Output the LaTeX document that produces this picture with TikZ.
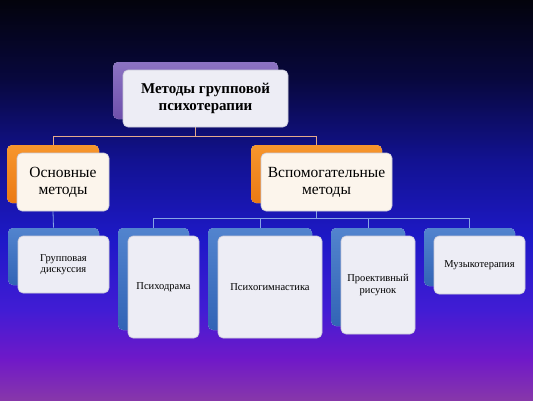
\documentclass[tikz,border=0pt]{standalone}
\usepackage{fontspec}
\setmainfont{Liberation Serif}
\usetikzlibrary{shadows,backgrounds}

\definecolor{bgA}{RGB}{3,3,12}
\definecolor{bgB}{RGB}{8,8,62}
\definecolor{bgC}{RGB}{18,18,145}
\definecolor{bgD}{RGB}{30,25,200}
\definecolor{bgE}{RGB}{65,28,212}
\definecolor{bgF}{RGB}{112,25,200}
\definecolor{bgG}{RGB}{135,55,170}
\definecolor{tabviolet}{RGB}{110,80,172}
\definecolor{tabvioletlt}{RGB}{140,115,195}
\definecolor{taborange}{RGB}{235,122,20}
\definecolor{taborangelt}{RGB}{247,150,45}
\definecolor{tabblue}{RGB}{50,100,182}
\definecolor{tabbluelt}{RGB}{82,132,206}
\definecolor{boxfill}{RGB}{237,237,245}
\definecolor{creamfill}{RGB}{252,245,236}
\definecolor{boxedge}{RGB}{200,200,215}
\definecolor{peachline}{RGB}{228,170,140}
\definecolor{skyline}{RGB}{135,165,228}

\begin{document}
\begin{tikzpicture}[x=1pt,y=-1pt,
    box/.style={rectangle, rounded corners=5pt, draw=boxedge, line width=0.6pt,
        fill=boxfill, align=center, inner sep=2pt},
    headbox/.style={box, minimum width=165pt, minimum height=57pt,
        font=\fontsize{15}{17}\selectfont\bfseries,
        copy shadow={shadow xshift=-10pt, shadow yshift=8pt, draw=none,
            top color=tabvioletlt, bottom color=tabviolet}},
    groupbox/.style={box, fill=creamfill, minimum height=58pt,
        font=\fontsize{15.5}{17}\selectfont,
        copy shadow={shadow xshift=-10pt, shadow yshift=8pt, draw=none,
            top color=taborangelt, bottom color=taborange}},
    methodbox/.style={box, font=\fontsize{10.5}{11.5}\selectfont,
        copy shadow={shadow xshift=-10pt, shadow yshift=8pt, draw=none,
            top color=tabbluelt, bottom color=tabblue}},
    peach/.style={draw=peachline, line width=1pt},
    sky/.style={draw=skyline, line width=0.8pt}
]
    \useasboundingbox (0,0) rectangle (533,400);

    % Top node
    \node[headbox] (head) at (205.5,98.5) {Методы групповой\\психотерапии};

    % Second level
    \node[groupbox, minimum width=92pt] (basic) at (63,182) {Основные\\методы};
    \node[groupbox, minimum width=131pt] (extra) at (326.5,182) {Вспомогательные\\методы};

    % Third level
    \node[methodbox, minimum width=91pt, minimum height=57pt] (discuss) at (63.5,264.5) {Групповая\\дискуссия};
    \node[methodbox, minimum width=71pt, minimum height=102pt] (drama) at (163.5,287) {Психодрама};
    \node[methodbox, minimum width=104pt, minimum height=102pt] (gymn) at (270,287) {Психогимнастика};
    \node[methodbox, minimum width=74pt, minimum height=98pt] (sketch) at (378,285) {Проективный\\рисунок};
    \node[methodbox, minimum width=91pt, minimum height=58pt] (music) at (479.5,265) {Музыкотерапия};

    % Joints of the connectors
    \coordinate (headjoin) at ([xshift=-10pt,yshift=-9pt]head.south);
    \coordinate (extrajoin) at ([xshift=-10pt,yshift=-7pt]extra.south);

    \begin{scope}[on background layer]
        % Background
        \shade[top color=bgA, bottom color=bgB] (0,0) rectangle (533,80);
        \shade[top color=bgB, bottom color=bgC] (0,79.5) rectangle (533,160);
        \shade[top color=bgC, bottom color=bgD] (0,159.5) rectangle (533,240);
        \shade[top color=bgD, bottom color=bgE] (0,239.5) rectangle (533,310);
        \shade[top color=bgE, bottom color=bgF] (0,309.5) rectangle (533,360);
        \shade[top color=bgF, bottom color=bgG] (0,359.5) rectangle (533,400);

        % Connectors
        \draw[peach] ([xshift=-10pt]head.south) -- (headjoin);
        \draw[peach] (headjoin) -| ([xshift=-10pt,yshift=8pt]basic.north);
        \draw[peach] (headjoin) -| ([xshift=-10pt,yshift=8pt]extra.north);
        \draw[sky] ([xshift=-10pt]basic.south) -- ([xshift=-10pt,yshift=8pt]discuss.north);
        \draw[sky] ([xshift=-10pt]extra.south) -- (extrajoin);
        \foreach \m in {drama,gymn,sketch,music}
            \draw[sky] (extrajoin) -| ([xshift=-10pt,yshift=8pt]\m.north);
    \end{scope}
\end{tikzpicture}
\end{document}
